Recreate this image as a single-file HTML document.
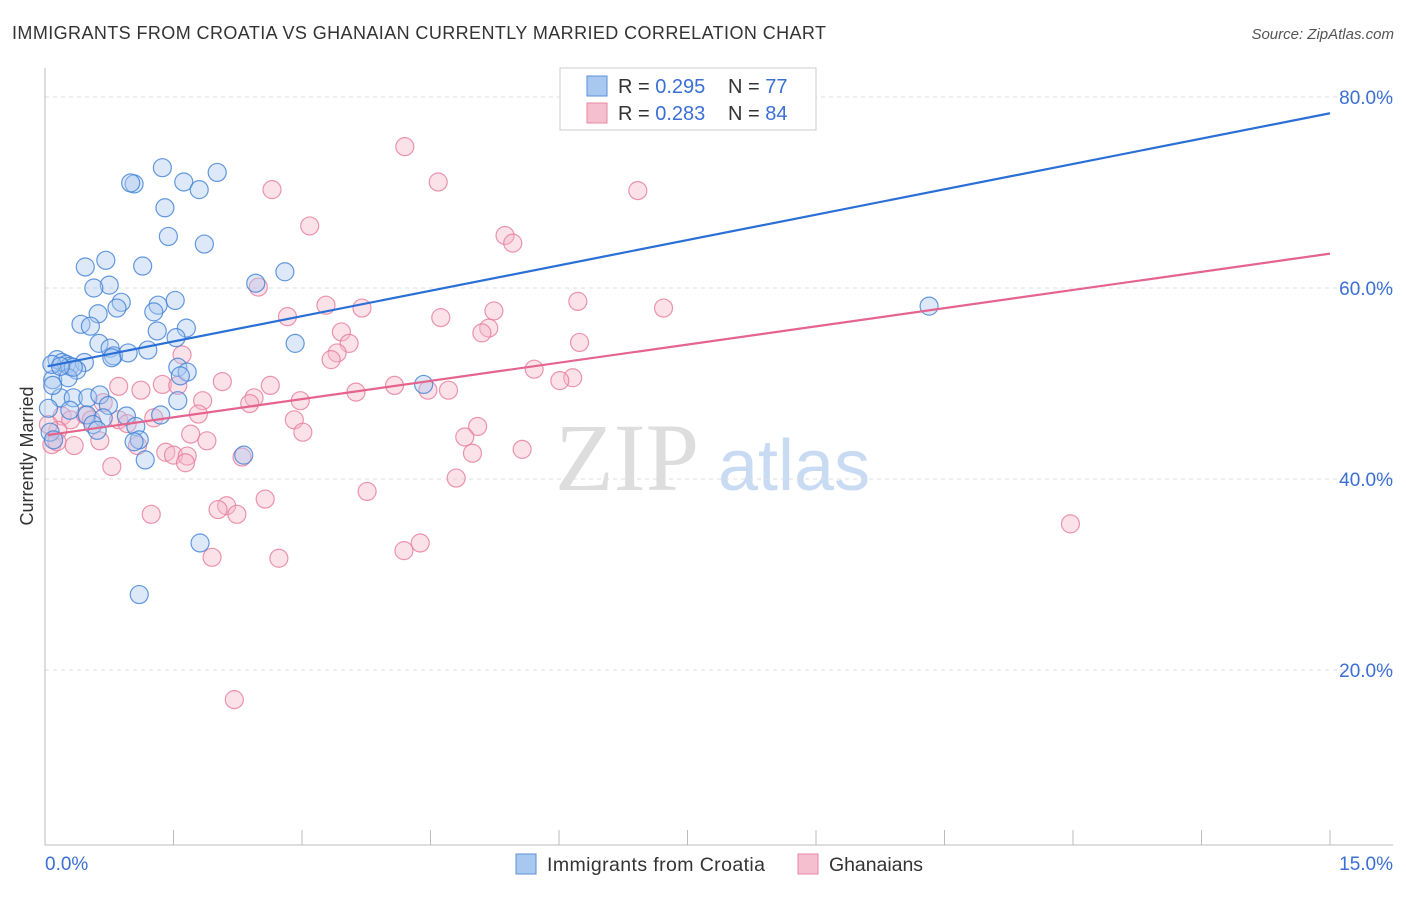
<!DOCTYPE html>
<html><head><meta charset="utf-8"><style>
body{margin:0;background:#fff;font-family:"Liberation Sans",sans-serif}
</style></head><body>
<svg id="chart" width="1406" height="892" xmlns="http://www.w3.org/2000/svg" font-family="Liberation Sans, sans-serif">
<text x="12" y="39" font-size="18" fill="#333" textLength="814">IMMIGRANTS FROM CROATIA VS GHANAIAN CURRENTLY MARRIED CORRELATION CHART</text>
<text x="1394" y="39" font-size="15" fill="#555" font-style="italic" text-anchor="end">Source: ZipAtlas.com</text>
<g>
<text x="555" y="490" font-size="96" font-family="Liberation Serif, serif" fill="#ddd">ZIP</text>
<text x="718" y="490" font-size="72" fill="#c9daf3">atlas</text>
</g>
<g id="grid"></g>
<g id="axes"></g>
<g id="marks"></g>
<g>
<rect x="560" y="68" width="256" height="62" fill="#fff" stroke="#ccc"/>
<rect x="587" y="76" width="20" height="20" fill="#a9c8f0" stroke="#5b8fd9"/>
<text x="618" y="93" font-size="20" fill="#333">R = <tspan fill="#3b6fd4">0.295</tspan></text>
<text x="728" y="93" font-size="20" fill="#333">N = <tspan fill="#3b6fd4">77</tspan></text>
<rect x="587" y="103" width="20" height="20" fill="#f6bfd0" stroke="#e488a6"/>
<text x="618" y="120" font-size="20" fill="#333">R = <tspan fill="#3b6fd4">0.283</tspan></text>
<text x="728" y="120" font-size="20" fill="#333">N = <tspan fill="#3b6fd4">84</tspan></text>
</g>
<g>
<rect x="516" y="854" width="20" height="20" fill="#a9c8f0" stroke="#5b8fd9"/>
<text x="547" y="871" font-size="19.5" fill="#333" textLength="218">Immigrants from Croatia</text>
<rect x="798" y="854" width="20" height="20" fill="#f6bfd0" stroke="#e488a6"/>
<text x="829" y="871" font-size="19.5" fill="#333" textLength="94">Ghanaians</text>
</g>
<text transform="translate(33,456) rotate(-90)" font-size="18" fill="#333" text-anchor="middle">Currently Married</text>
</svg>
<script>
const yTicks=[20,40,60,80];
const yTickLabels=["20.0%","40.0%","60.0%","80.0%"];
const xTickLabels=["0.0%","15.0%"];
const blueX=[1.37,2.01,1.04,1.0,1.62,1.80,1.40,1.44,1.86,0.71,0.47,1.14,2.80,2.46,0.75,0.57,0.89,0.84,1.52,1.32,1.27,0.62,0.42,0.53,1.31,1.65,1.53,2.92,0.63,0.76,1.20,0.80,0.97,0.14,0.2,0.25,0.29,0.46,0.37,0.09,0.27,1.55,1.66,1.58,4.42,0.18,0.33,0.50,0.64,1.55,0.74,0.04,0.29,0.49,0.95,1.35,0.68,0.56,1.06,0.61,0.06,0.1,1.10,1.04,2.32,1.17,1.81,1.10,10.32,0.33,0.08,0.09,0.78,0.18];
const blueY=[72.6,72.1,70.9,71.0,71.1,70.3,68.4,65.4,64.6,62.9,62.2,62.3,61.7,60.5,60.3,60.0,58.5,57.9,58.7,58.2,57.5,57.3,56.2,56.0,55.5,55.8,54.8,54.2,54.2,53.7,53.5,52.9,53.2,52.5,52.2,52.0,51.8,52.2,51.4,50.4,50.6,51.7,51.2,50.8,49.9,48.5,48.5,48.5,48.8,48.2,47.7,47.4,47.2,46.7,46.6,46.7,46.4,45.7,45.5,45.1,44.9,44.1,44.1,43.9,42.5,42.0,33.3,27.9,58.1,51.7,52.0,49.8,52.7,51.8];
const pinkX=[4.2,4.59,6.92,2.65,3.09,5.37,5.46,2.49,3.28,3.70,6.22,7.22,5.24,2.83,4.62,5.18,5.10,3.46,3.55,6.24,3.41,3.34,1.60,5.71,6.16,6.01,1.37,2.07,2.63,4.08,0.86,1.12,1.55,3.63,4.47,4.71,1.84,2.44,2.39,2.98,1.79,2.91,0.68,0.20,0.30,0.47,0.54,0.86,0.96,1.27,5.05,3.01,1.70,4.90,0.15,0.04,0.08,0.14,1.89,0.64,0.34,1.08,1.41,1.50,5.57,2.30,1.66,4.99,1.64,0.78,4.80,3.76,2.57,2.12,2.02,2.24,1.24,11.97,4.38,4.19,1.95,2.73,2.21];
const pinkY=[74.8,71.1,70.2,70.3,66.5,65.5,64.7,60.1,58.2,57.9,58.6,57.9,57.6,57.0,56.9,55.8,55.3,55.4,54.2,54.3,53.2,52.5,53.0,51.5,50.6,50.3,49.9,50.2,49.8,49.8,49.7,49.3,49.8,49.1,49.3,49.3,48.2,48.5,47.9,48.2,46.8,46.2,48.0,46.6,46.2,46.7,46.2,46.2,45.8,46.4,45.5,44.9,44.7,44.4,45.1,45.7,43.6,43.9,44.0,44.0,43.5,43.5,42.8,42.5,43.1,42.3,42.4,42.7,41.7,41.3,40.1,38.7,37.9,37.2,36.8,36.3,36.3,35.3,33.3,32.5,31.8,31.7,16.9];
const blueLine=[[0.03,51.8],[15,78.3]];
const pinkLine=[[0.03,44.6],[15,63.6]];
const NS="http://www.w3.org/2000/svg";
const X=v=>45+v/15*1285;
const Y=v=>861-v*9.55;
function mk(tag,attrs,parent){const e=document.createElementNS(NS,tag);for(const k in attrs)e.setAttribute(k,attrs[k]);document.getElementById(parent).appendChild(e);return e;}
yTicks.forEach((t,i)=>{
 const g=mk('line',{x1:45,x2:1393,y1:Y(t),y2:Y(t),stroke:'#ddd','stroke-dasharray':'4 4'},'grid');
 
 
 const l=mk('text',{x:1393,y:Y(t)+7,'font-size':19,fill:'#3b6fd4','text-anchor':'end'},'axes');
 l.textContent=yTickLabels[i];
 
 
});
const ya=mk('line',{x1:45,x2:45,y1:68,y2:845,stroke:'#bbb'},'axes');


const xa=mk('line',{x1:45,x2:1393,y1:845,y2:845,stroke:'#bbb'},'axes');


for(let i=1;i<=10;i++){
 const t=mk('line',{x1:X(i*1.5),x2:X(i*1.5),y1:830,y2:845,stroke:'#bbb'},'axes');
 
 
}
[[0,'start',45],[15,'end',1393]].forEach((d,i)=>{
 const l=mk('text',{x:d[2],y:870,'font-size':19,fill:'#3b6fd4','text-anchor':d[1]},'axes');
 l.textContent=xTickLabels[i];
 
 
});
function dots(xs,ys,fill,stroke,name){
 xs.forEach((x,i)=>{
  const c=mk('circle',{cx:X(x),cy:Y(ys[i]),r:9,fill:fill,'fill-opacity':0.4,stroke:stroke,'stroke-width':1.2,'stroke-opacity':0.8},'marks');
  
  
 });
}
dots(pinkX,pinkY,'#f6b6c9','#e67a9c','ghanaian-point');
dots(blueX,blueY,'#a9c8f0','#3f7fd6','croatia-point');
const bl=mk('line',{x1:X(blueLine[0][0]),y1:Y(blueLine[0][1]),x2:X(blueLine[1][0]),y2:Y(blueLine[1][1]),stroke:'#2a6fd6','stroke-width':2.2},'marks');


const pl=mk('line',{x1:X(pinkLine[0][0]),y1:Y(pinkLine[0][1]),x2:X(pinkLine[1][0]),y2:Y(pinkLine[1][1]),stroke:'#e4648e','stroke-width':2.2},'marks');


</script>
</body></html>
